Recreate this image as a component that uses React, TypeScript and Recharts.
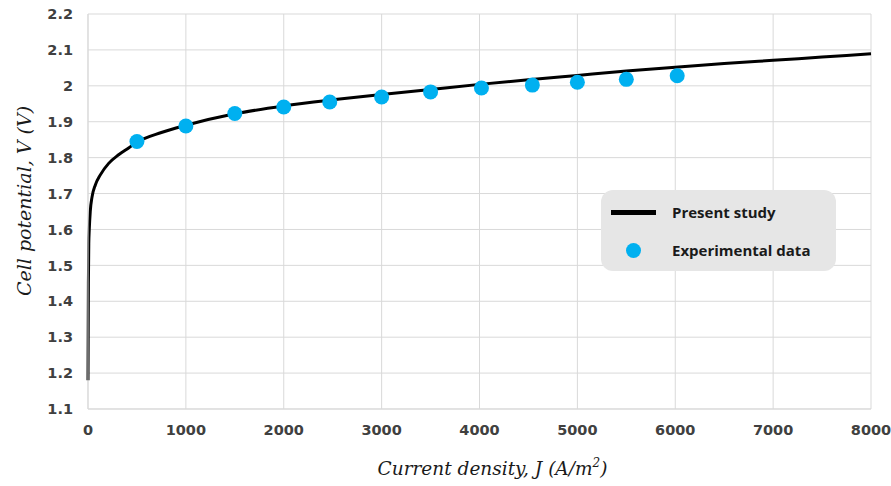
import * as React from 'react';
import {
  ComposedChart,
  Line,
  Scatter,
  XAxis,
  YAxis,
  CartesianGrid,
  Legend,
  Label,
} from 'recharts';

// Present study (model curve)
const modelJ = [0, 4, 8, 13, 23, 41, 75, 126, 211, 313, 415, 500, 750, 1000, 1500, 2000, 2500, 3000, 3500, 4000, 4500, 5000, 5500, 6000, 6500, 7000, 7500, 8000];
const modelV = [1.18, 1.45, 1.56, 1.6, 1.65, 1.69, 1.724, 1.752, 1.784, 1.808, 1.827, 1.843, 1.87, 1.89, 1.922, 1.944, 1.961, 1.976, 1.99, 2.004, 2.017, 2.029, 2.041, 2.052, 2.062, 2.071, 2.08, 2.089];

// Experimental data
const expJ = [500, 1000, 1500, 2000, 2470, 3000, 3500, 4020, 4540, 5000, 5500, 6020];
const expV = [1.845, 1.888, 1.923, 1.941, 1.955, 1.969, 1.983, 1.994, 2.002, 2.01, 2.018, 2.028];

const xTicks = [0, 1000, 2000, 3000, 4000, 5000, 6000, 7000, 8000];
const yTicks = [1.1, 1.2, 1.3, 1.4, 1.5, 1.6, 1.7, 1.8, 1.9, 2.0, 2.1, 2.2];

const modelData = modelJ.map((j, i) => ({ J: j, V: modelV[i] }));
const expData = expJ.map((j, i) => ({ J: j, V: expV[i] }));

const tickStyle = { fontFamily: 'DejaVu Sans', fontWeight: 700, fontSize: 14.5, fill: '#404040' };
const titleFont = 'DejaVu Serif';

const Dot = (props: any) => {
  const { cx, cy } = props;
  return <circle cx={cx} cy={cy} r={7.5} fill="#00b0f0" />;
};

const LegendBox = () => (
  <div
    style={{
      width: 235,
      height: 81,
      background: '#e6e6e6',
      borderRadius: 12,
      position: 'relative',
      fontFamily: 'Open Sans',
      fontWeight: 700,
      fontSize: 15,
      color: '#1a1a1a',
    }}
  >
    <div style={{ position: 'absolute', left: 10, top: 20, width: 45, height: 5, background: '#000' }} />
    <div style={{ position: 'absolute', left: 71, top: 12, lineHeight: '20px' }}>Present study</div>
    <div style={{ position: 'absolute', left: 25, top: 53, width: 15, height: 15, borderRadius: '50%', background: '#00b0f0' }} />
    <div style={{ position: 'absolute', left: 71, top: 50, lineHeight: '20px' }}>Experimental data</div>
  </div>
);

export default function App() {
  return (
    <div style={{ position: 'absolute', left: 0, top: 0, background: '#fff' }}>
      <ComposedChart width={891} height={486} margin={{ top: 14, right: 20, bottom: 0, left: 0 }}>
        <CartesianGrid stroke="#d9d9d9" strokeWidth={1} />
        <XAxis
          dataKey="J"
          type="number"
          domain={[0, 8000]}
          ticks={xTicks}
          interval={0}
          allowDuplicatedCategory={false}
          tickLine={false}
          tickSize={0}
          tickMargin={16}
          axisLine={{ stroke: '#d9d9d9' }}
          tick={tickStyle}
          height={77}
        >
          <Label
            content={(p: any) => {
              const vb = p.viewBox;
              return (
                <text
                  x={vb.x + vb.width / 2 + 13}
                  y={vb.y + 66}
                  textAnchor="middle"
                  fontFamily={titleFont}
                  fontStyle="italic"
                  fontSize={18.5}
                  fill="#1a1a1a"
                >
                  Current density, J (A/m
                  <tspan fontSize={12} dy={-8}>2</tspan>
                  <tspan dy={8}>)</tspan>
                </text>
              );
            }}
          />
        </XAxis>
        <YAxis
          dataKey="V"
          type="number"
          domain={[1.1, 2.2]}
          ticks={yTicks}
          interval={0}
          tickLine={false}
          tickSize={0}
          tickMargin={15}
          axisLine={{ stroke: '#d9d9d9' }}
          tick={tickStyle}
          tickFormatter={(v: number) => String(+v.toFixed(1))}
          width={88}
        >
          <Label
            content={() => (
              <text
                x={31}
                y={201}
                transform="rotate(-90 31 201)"
                textAnchor="middle"
                fontFamily={titleFont}
                fontStyle="italic"
                fontSize={19}
                fill="#1a1a1a"
              >
                Cell potential, V (V)
              </text>
            )}
          />
        </YAxis>
        <Line
          data={modelData}
          dataKey="V"
          type="monotone"
          stroke="#000"
          strokeWidth={3}
          dot={false}
          activeDot={false}
          isAnimationActive={false}
          name="Present study"
        />
        <Scatter
          data={expData}
          dataKey="V"
          fill="#00b0f0"
          shape={<Dot />}
          isAnimationActive={false}
          name="Experimental data"
        />
        <Legend
          layout="vertical"
          verticalAlign="middle"
          align="center"
          content={() => <LegendBox />}
          wrapperStyle={{ left: 601, top: 190, width: 235, height: 81 }}
        />
      </ComposedChart>
    </div>
  );
}
